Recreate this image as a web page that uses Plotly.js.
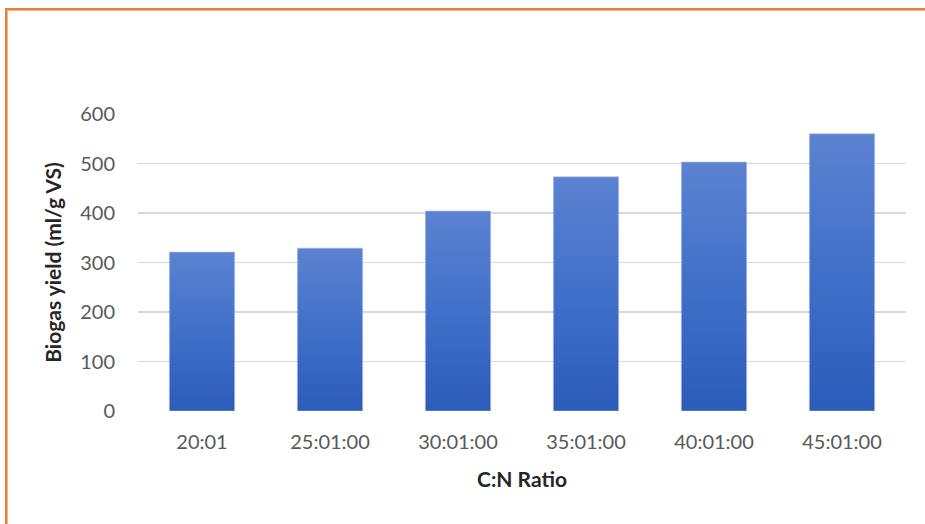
<!DOCTYPE html>
<html>
<head>
<meta charset="utf-8">
<script src="https://cdn.plot.ly/plotly-3.0.1.min.js"></script>
<style>
html,body{margin:0;padding:0;background:#fff;}
#wrap{position:relative;width:925px;height:524px;overflow:hidden;}
#frame{position:absolute;left:5px;top:8px;width:940px;height:540px;border-left:2px solid #ed7d31;border-top:2px solid #ed7d31;box-shadow:inset 1px 1px 0 #f8b68a;pointer-events:none;z-index:2;}
#chart{position:absolute;left:0;top:0;width:925px;height:524px;}
</style>
</head>
<body>
<div id="wrap">
<div id="chart"></div>
<div id="frame"></div>
</div>
<script>
const categories = ["20:01", "25:01:00", "30:01:00", "35:01:00", "40:01:00", "45:01:00"];
const biogasYield = [321, 329, 404, 473, 503, 560];
const yTickValues = [0, 100, 200, 300, 400, 500, 600];

const trace = {
  type: "bar",
  x: categories,
  y: biogasYield,
  marker: {color: "#3f6dc6", line: {color: "#a9c0ea", width: 0.6}},
  hoverinfo: "x+y"
};

const layout = {
  width: 925, height: 524,
  margin: {l: 138, r: 19, t: 114, b: 113},
  paper_bgcolor: "#ffffff",
  plot_bgcolor: "#ffffff",
  bargap: 0.49,
  showlegend: false,
  font: {family: "Lato, 'Open Sans', sans-serif", color: "#595959", size: 20},
  xaxis: {
    type: "category",
    showgrid: false,
    zeroline: false,
    showline: false,
    ticks: "",
    ticklabelstandoff: 17,
    tickfont: {size: 20, color: "#595959"},
    title: {text: "<b>C:N Ratio</b>", font: {size: 21, color: "#262626"}, standoff: 20}
  },
  yaxis: {
    range: [0, 600],
    tickvals: yTickValues,
    ticktext: yTickValues.map(String),
    showgrid: true,
    gridcolor: "#d9d9d9",
    gridwidth: 1.5,
    zeroline: false,
    showline: false,
    ticks: "",
    ticklabelstandoff: 22,
    tickfont: {size: 20, color: "#595959"},
    title: {text: "<b>Biogas yield (ml/g VS)</b>", font: {size: 21, color: "#262626"}, standoff: 12}
  }
};

Plotly.newPlot("chart", [trace], layout, {displayModeBar: false, staticPlot: true}).then(function(gd){
  const svg = gd.querySelector("svg.main-svg");
  const ns = "http://www.w3.org/2000/svg";
  let defs = svg.querySelector("defs");
  if (!defs) { defs = document.createElementNS(ns, "defs"); svg.insertBefore(defs, svg.firstChild); }
  const grad = document.createElementNS(ns, "linearGradient");
  grad.setAttribute("id", "barGrad");
  grad.setAttribute("x1", "0"); grad.setAttribute("y1", "0");
  grad.setAttribute("x2", "0"); grad.setAttribute("y2", "1");
  [["0%", "#5c82d1"], ["55%", "#3e6ec8"], ["100%", "#2c5cb9"]].forEach(function(s){
    const st = document.createElementNS(ns, "stop");
    st.setAttribute("offset", s[0]); st.setAttribute("stop-color", s[1]);
    grad.appendChild(st);
  });
  defs.appendChild(grad);
  gd.querySelectorAll(".bars .point path").forEach(function(p){
    p.style.fill = "url(#barGrad)";
  });
});
</script>
</body>
</html>
